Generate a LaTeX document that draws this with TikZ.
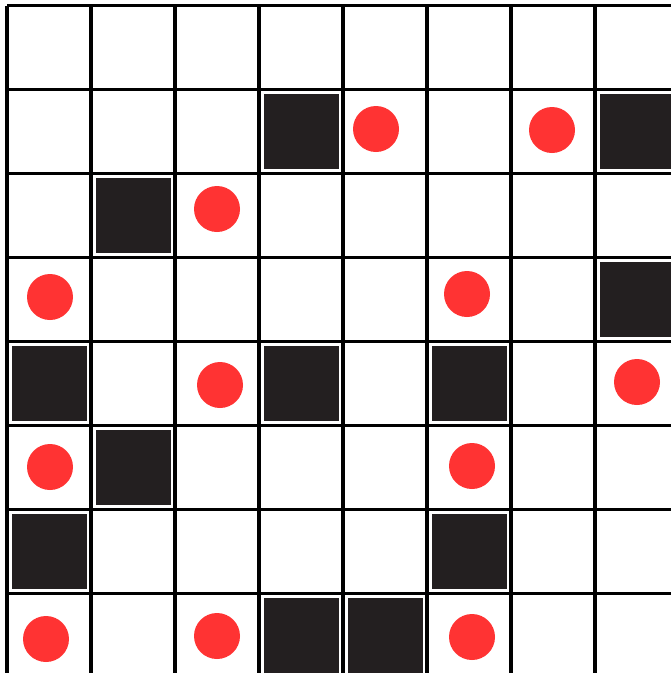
\documentclass[tikz,border=0pt]{standalone}
\usepackage{tikz}
\definecolor{blk}{HTML}{231F20}
\definecolor{dotred}{HTML}{FF3333}
\tikzset{
  gridline/.style={line width=3.6pt, black},
  blockbox/.style={fill=blk, draw=none},
  reddot/.style={fill=dotred, draw=none},
}
\begin{document}
\begin{tikzpicture}[x=1pt,y=-1pt]
\useasboundingbox (0,0) rectangle (671,673);
\clip (0,0) rectangle (671,673);
\fill[white] (0,0) rectangle (671,673);
% black blocks
\foreach \c/\r in {3/1,7/1,1/2,7/3,0/4,3/4,5/4,1/5,0/6,5/6,3/7,4/7}{
  \fill[blockbox] ({7+84*\c+4.5},{5.5+84*\r+4.5}) rectangle ({7+84*\c+79.5},{5.5+84*\r+79.5});
}
% grid
\foreach \i in {0,...,7}{
  \draw[gridline] ({7+84*\i},5.5) -- ({7+84*\i},680);
  \draw[gridline] (7,{5.5+84*\i}) -- (680,{5.5+84*\i});
}
% red dots
\foreach \x/\y in {376/129,552/130,217/209,50/297,467/294,220/385,637/382,50/467,472/466,46/639,217/636,472/637}{
  \fill[reddot] (\x,\y) circle (23);
}
\end{tikzpicture}
\end{document}
